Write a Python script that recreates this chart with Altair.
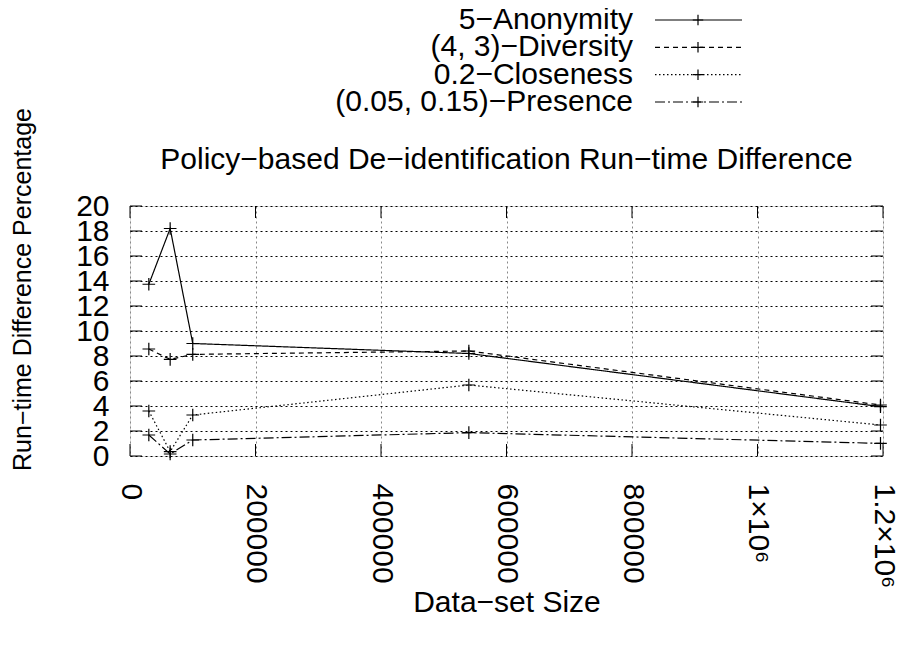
import altair as alt
import pandas as pd

# ---- data ----
sizes = [30000, 64000, 100000, 540000, 1196000]
series_names = ["5\u2212Anonymity", "(4, 3)\u2212Diversity", "0.2\u2212Closeness", "(0.05, 0.15)\u2212Presence"]
anonymity = [13.74, 18.2, 9.0, 8.2, 3.95]
diversity = [8.56, 7.73, 8.13, 8.4, 4.08]
closeness = [3.6, 0.35, 3.28, 5.68, 2.48]
presence = [1.68, 0.16, 1.28, 1.87, 1.01]
y_ticks = [0, 2, 4, 6, 8, 10, 12, 14, 16, 18, 20]
x_ticks = [0, 200000, 400000, 600000, 800000, 1000000, 1200000]
x_tick_labels = ["0", "200000", "400000", "600000", "800000", "1\u00d710\u2076", "1.2\u00d710\u2076"]
title_text = "Policy\u2212based De\u2212identification Run\u2212time Difference"
x_title = "Data\u2212set Size"
y_title = "Run\u2212time Difference Percentage"

# ---- styling ----
W, H = 753, 250
FONT = "Liberation Sans"
FS = 30
dashes = [[1, 0], [5, 4], [1.5, 2.5], [10, 3, 2, 3]]
plus = "M-1,0L1,0M0,-1L0,1"

all_vals = [anonymity, diversity, closeness, presence]
rows = []
for name, vals in zip(series_names, all_vals):
    for s, v in zip(sizes, vals):
        rows.append({"series": name, "size": s, "value": v})
df = pd.DataFrame(rows)

label_expr = " : ".join(
    f"datum.value == {v} ? '{l}'" for v, l in zip(x_ticks, x_tick_labels)
) + " : ''"

dash_scale = alt.Scale(domain=series_names, range=dashes)
x_scale = alt.Scale(domain=[0, 1200000], nice=False, zero=False)
y_scale = alt.Scale(domain=[0, 20], nice=False)

x_axis = alt.Axis(
    values=x_ticks, labelExpr=label_expr, labelAngle=90, labelAlign="left",
    labelBaseline="middle", labelPadding=27, ticks=False, domain=False,
    labelOverlap=False,
    grid=True, gridColor="#888888", gridDash=[2, 3], gridWidth=1,
    labelFontSize=FS, labelFont=FONT, labelColor="black",
    title=x_title, titleFontSize=FS, titleFont=FONT, titleFontWeight="normal",
    titleY=146, titleBaseline="middle", titleColor="black",
)
y_axis = alt.Axis(
    values=y_ticks, labelPadding=21, ticks=False, domain=False,
    labelOverlap=False,
    grid=True, gridColor="#000000", gridDash=[2, 3], gridWidth=1,
    labelFontSize=FS, labelFont=FONT, labelColor="black",
    title=y_title, titleFontSize=25, titleFont=FONT, titleFontWeight="normal",
    titleX=-108, titleY=83, titleAngle=-90, titleAlign="center",
    titleBaseline="middle", titleColor="black",
)


def X():
    return alt.X("size:Q", scale=x_scale, axis=x_axis)


def Y():
    return alt.Y("value:Q", scale=y_scale, axis=y_axis)


lines = alt.Chart(df).mark_line(color="black", strokeWidth=1.2).encode(
    x=X(), y=Y(), detail="series:N",
    strokeDash=alt.StrokeDash("series:N", scale=dash_scale, legend=None),
)
points = alt.Chart(df).mark_point(
    shape=plus, filled=False, color="black", size=160, strokeWidth=1.2, opacity=1
).encode(x=X(), y=Y())

yt = pd.DataFrame({"value": y_ticks})
xt = pd.DataFrame({"size": x_ticks})
tick_l = alt.Chart(yt).mark_rule(color="black", strokeWidth=1).encode(
    y=Y(), x=alt.value(0), x2=alt.value(12))
tick_r = alt.Chart(yt).mark_rule(color="black", strokeWidth=1).encode(
    y=Y(), x=alt.value(W - 12), x2=alt.value(W))
tick_b = alt.Chart(xt).mark_rule(color="black", strokeWidth=1).encode(
    x=X(), y=alt.value(H - 12), y2=alt.value(H))
tick_t = alt.Chart(xt).mark_rule(color="black", strokeWidth=1).encode(
    x=X(), y=alt.value(0), y2=alt.value(12))

main = alt.layer(lines, points, tick_l, tick_r, tick_b, tick_t)

# legend: one row per series, placed above the plot through its own linear scale
leg_df = pd.DataFrame({"series": series_names, "row": list(range(len(series_names)))})
leg_y = alt.Y("row:Q", scale=alt.Scale(domain=[0, 3], range=[-186, -104], nice=False, zero=False), axis=None)
leg_text = alt.Chart(leg_df).mark_text(
    align="right", baseline="middle", fontSize=FS, font=FONT, color="black"
).encode(x=alt.value(503), y=leg_y, text="series:N")
leg_line = alt.Chart(leg_df).mark_rule(color="black", strokeWidth=1.2).encode(
    x=alt.value(525), x2=alt.value(612), y=leg_y,
    strokeDash=alt.StrokeDash("series:N", scale=dash_scale, legend=None),
)
leg_pt = alt.Chart(leg_df).mark_point(
    shape=plus, filled=False, color="black", size=110, strokeWidth=1.2, opacity=1
).encode(x=alt.value(568), y=leg_y)
title_df = pd.DataFrame({"t": [title_text]})
title_mark = alt.Chart(title_df).mark_text(
    align="center", baseline="middle", fontSize=FS, font=FONT, color="black"
).encode(x=alt.value(W / 2), y=alt.value(-46), text="t:N")

legend = alt.layer(leg_text, leg_line, leg_pt, title_mark)

chart = alt.layer(main, legend).resolve_scale(y="independent").properties(
    width=W, height=H,
    autosize=alt.AutoSizeParams(type="none"),
    padding={"left": 122, "top": 198, "right": 16, "bottom": 178},
    background="white",
).configure_view(stroke="black", strokeWidth=2).configure_axis(
    labelOverlap=False
).configure(font=FONT)

chart.save("out.html", embed_options={"renderer": "svg", "actions": False})
